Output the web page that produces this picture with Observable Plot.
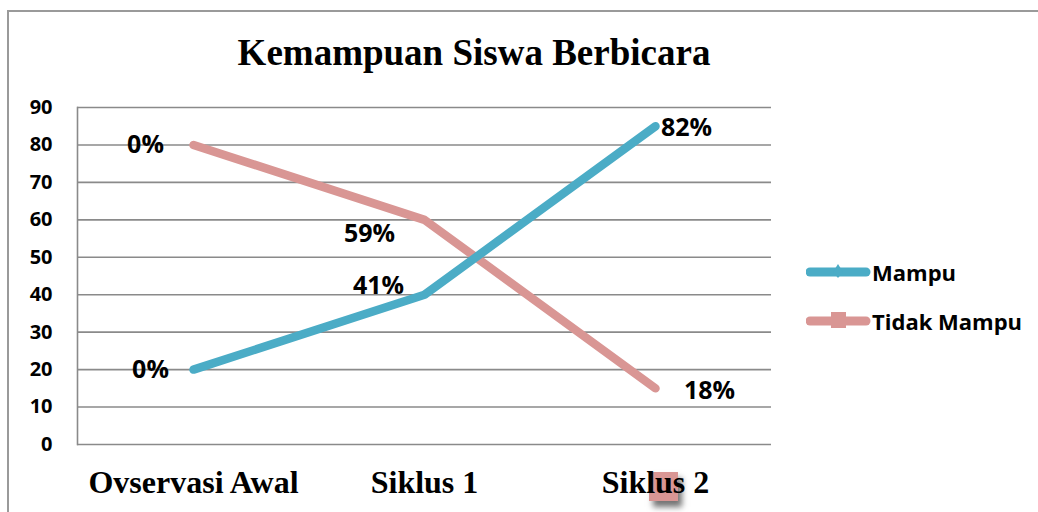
<!DOCTYPE html>
<html>
<head>
<meta charset="utf-8">
<script src="https://cdn.jsdelivr.net/npm/d3@7"></script>
<script src="https://cdn.jsdelivr.net/npm/@observablehq/plot@0.6"></script>
<style>
  html, body { margin: 0; padding: 0; background: #fff; }
  #wrap { position: relative; width: 1038px; height: 512px; overflow: hidden; background: #fff; }
  #frame { position: absolute; left: 7px; top: 10px; width: 1100px; height: 600px;
           border-top: 2px solid #9a9a9a; border-left: 2px solid #9a9a9a; box-sizing: border-box; }
  #title { position: absolute; left: 0; width: 948px; top: 31px; text-align: center;
           font-family: "Liberation Serif", serif; font-weight: bold; font-size: 37px; color: #000; }
  #chart { position: absolute; left: 0; top: 0; z-index: 2; }
  #blob { position: absolute; left: 649px; top: 472px; width: 29px; height: 29px; background: #D99694;
          box-shadow: 4px 6px 6px rgba(0,0,0,0.55); z-index: 1; }
  .leg { position: absolute; left: 806px; display: flex; align-items: center; z-index: 3;
         font-family: "Open Sans", sans-serif; font-weight: bold; font-size: 22px; color: #000; }
  .leg svg { display: block; margin-right: 0px; }
</style>
</head>
<body>
<div id="wrap">
  <div id="frame"></div>
  <div id="blob"></div>
  <div id="title"></div>
  <div id="chart"></div>
</div>
<script>
const categories = ["Ovservasi Awal", "Siklus 1", "Siklus 2"];
const seriesNames = ["Mampu", "Tidak Mampu"];
const mampu = [20, 40, 85];
const tidakMampu = [80, 60, 15];
const mampuLabels = ["0%", "41%", "82%"];
const tidakMampuLabels = ["0%", "59%", "18%"];
const yTicks = [0, 10, 20, 30, 40, 50, 60, 70, 80, 90];
const titleText = "Kemampuan Siswa Berbicara";

const colors = {"Mampu": "#4BACC6", "Tidak Mampu": "#D99694"};

const rows = [];
categories.forEach((c, i) => {
  rows.push({cat: c, series: "Mampu", value: mampu[i], label: mampuLabels[i]});
});
categories.forEach((c, i) => {
  rows.push({cat: c, series: "Tidak Mampu", value: tidakMampu[i], label: tidakMampuLabels[i]});
});

// label placement offsets (pixels) relative to each point, in row order
const labelOffsets = [
  [-43, 0], [-46, -9], [31, 2],
  [-48, 0], [-55, 14], [54, 3]
];

const labelMarks = rows.map((r, i) => Plot.text([r], {
  x: "cat", y: "value", text: "label",
  dx: labelOffsets[i][0], dy: labelOffsets[i][1],
  fontFamily: "Open Sans, sans-serif", fontWeight: "bold", fontSize: 25, fill: "#000"
}));

const chart = Plot.plot({
  width: 1038,
  height: 512,
  marginLeft: 77,
  marginRight: 267,
  marginTop: 107,
  marginBottom: 68,
  style: {background: "transparent", overflow: "visible"},
  x: {type: "point", domain: categories, padding: 0.5, label: null},
  y: {domain: [0, 90], label: null},
  marks: [
    Plot.ruleY(yTicks, {stroke: "#8a8a8a", strokeWidth: 1.6}),
    Plot.frame({anchor: "left", stroke: "#8a8a8a", strokeWidth: 1.6}),
    Plot.axisY(yTicks, {tickSize: 0, tickPadding: 25, label: null,
      fontFamily: "Open Sans, sans-serif", fontWeight: "bold", fontSize: 20, fill: "#000"}),
    Plot.axisX({tickSize: 0, tickPadding: 26, label: null,
      fontFamily: "Liberation Serif, serif", fontWeight: "bold", fontSize: 32, fill: "#000"}),
    Plot.line(rows.filter(d => d.series === "Tidak Mampu"), {x: "cat", y: "value",
      stroke: colors["Tidak Mampu"], strokeWidth: 8.5, strokeLinecap: "round", strokeLinejoin: "round"}),
    Plot.line(rows.filter(d => d.series === "Mampu"), {x: "cat", y: "value",
      stroke: colors["Mampu"], strokeWidth: 8.5, strokeLinecap: "round", strokeLinejoin: "round"}),
    ...labelMarks
  ]
});
document.getElementById("chart").append(chart);
document.getElementById("title").textContent = titleText;

// legend
const wrap = document.getElementById("wrap");
const legTops = [257, 306];
seriesNames.forEach((name, i) => {
  const div = document.createElement("div");
  div.className = "leg";
  div.style.top = legTops[i] + "px";
  const c = colors[name];
  const marker = i === 0
    ? `<path d="M32,7 L37,14 L32,21 L27,14 Z" fill="${c}"/>`
    : `<rect x="25" y="6" width="14" height="16" fill="${c}"/>`;
  div.innerHTML = `<svg width="66" height="30"><line x1="4" y1="15" x2="60" y2="15" stroke="${c}" stroke-width="9" stroke-linecap="round"/>${marker.replace(/14/g, "15")}</svg><span>${name}</span>`;
  wrap.appendChild(div);
});
</script>
</body>
</html>
